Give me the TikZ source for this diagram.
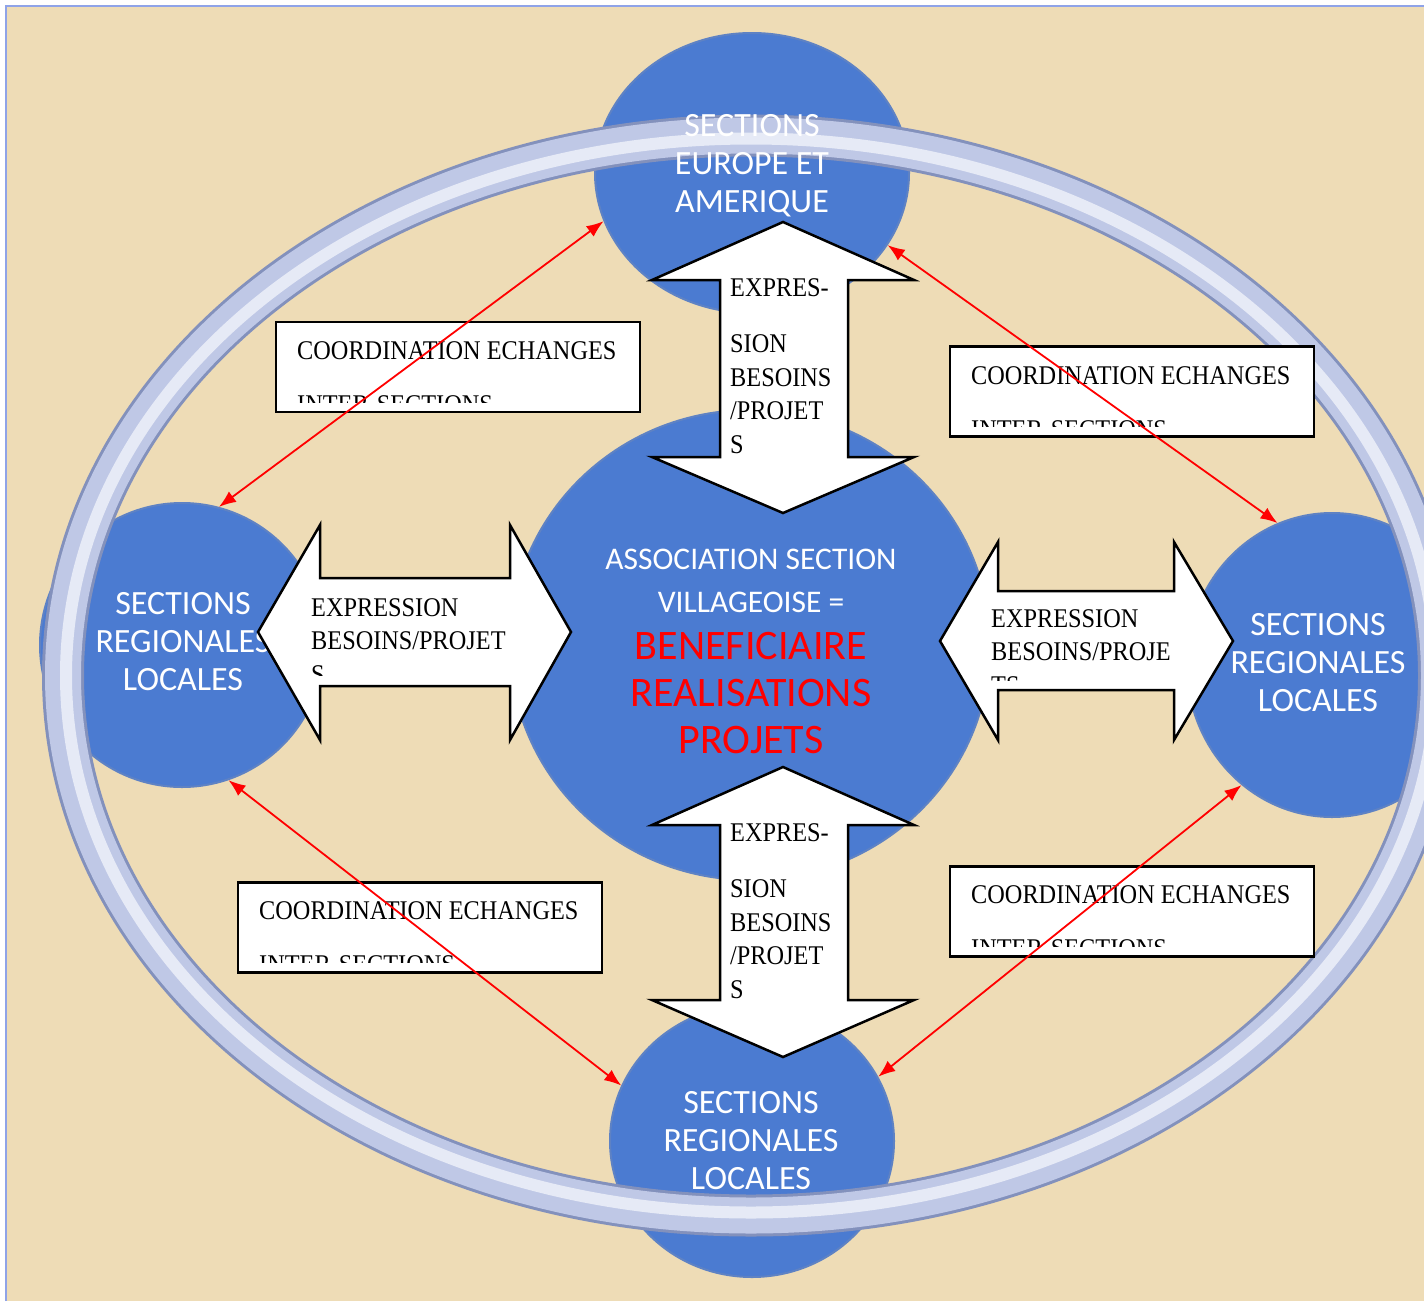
\documentclass[tikz,border=0pt]{standalone}
\usepackage{fontspec}
\usetikzlibrary{shapes.geometric,arrows.meta,positioning}
\newfontfamily\cirfont{Carlito}
\newfontfamily\boxfont{Liberation Serif}[FakeStretch=0.9]
\definecolor{paper}{HTML}{EEDCB6}
\definecolor{disc}{HTML}{4B7BD1}
\definecolor{discedge}{HTML}{5E82C4}
\definecolor{ringmid}{HTML}{BFC8E6}
\definecolor{ringdark}{HTML}{8391BC}
\definecolor{ringlight}{HTML}{E6EAF6}
\definecolor{frameblue}{HTML}{8FA3E8}
\tikzset{>={Latex[length=17pt,width=13pt]}}

\begin{document}
\begin{tikzpicture}[x=1pt, y=-1pt,
    disc/.style={ellipse, fill=disc, draw=discedge, line width=2pt, inner sep=0pt},
    discname/.style={font=\cirfont\fontsize{34}{38}\selectfont, text=white, align=center, inner sep=0pt, anchor=base},
    bigarrow/.style={draw=black, fill=white, line width=2.5pt, line join=miter},
    arrowtext/.style={font=\boxfont\fontsize{27}{33.5}\selectfont, align=left, inner sep=0pt, anchor=base west},
    coordbox/.style={rectangle, draw=black, fill=white, line width=2.5pt, minimum width=364pt, minimum height=90pt, inner sep=0pt},
    coordtext/.style={font=\boxfont\fontsize{27}{54}\selectfont, align=left, inner sep=0pt, anchor=base west},
    link/.style={<->, red, line width=1.8pt}]
  \useasboundingbox (0,0) rectangle (1424,1301);
  \fill[paper] (6,6) rectangle (1424,1301);
  \draw[frameblue, line width=2pt] (6,1301) -- (6,6) -- (1424,6);

  % outer sections
  \node[disc, minimum width=314pt, minimum height=280pt] (top) at (752,173) {};
  \node[disc, minimum width=284pt, minimum height=284pt] (left) at (182,645) {};
  \node[disc, minimum width=290pt, minimum height=304pt] (right) at (1332,665) {};
  \node[disc, minimum width=284pt, minimum height=272pt] (bottom) at (752,1141) {};

  % ring
  \draw[ringdark, line width=42pt] (751,675.5) ellipse [x radius=688, y radius=540];
  \draw[ringmid, line width=36pt] (751,675.5) ellipse [x radius=688, y radius=540];
  \draw[ringlight, line width=12pt] (751,675.5) ellipse [x radius=685, y radius=537];

  % centre
  \node[disc, minimum width=480pt, minimum height=470pt] (centre) at (750,645) {};

  % (base = last line)
  \node[discname] (toptxt) at (752,212) {SECTIONS\\EUROPE ET\\AMERIQUE};
  \node[discname] (lefttxt) at (183,690) {SECTIONS\\REGIONALES\\LOCALES};
  \node[discname] (righttxt) at (1318,711) {SECTIONS\\REGIONALES\\LOCALES};
  \node[discname] (bottomtxt) at (751,1189) {SECTIONS\\REGIONALES\\LOCALES};
  \node[discname, font=\cirfont\fontsize{31.5}{43}\selectfont] (centretxt) at (751,612) {ASSOCIATION SECTION\\VILLAGEOISE =};
  \node[discname, font=\cirfont\fontsize{42}{47}\selectfont, text=red] (benef) at (751,753) {BENEFICIAIRE\\REALISATIONS\\PROJETS};

  % expression arrows
  \draw[bigarrow] (783,222) -- (914,280) -- (848,280) -- (848,457) -- (914,457) -- (783,513)
    -- (652,457) -- (720,457) -- (720,280) -- (652,280) -- cycle;
  \node[arrowtext] (uptxt) at (730,453) {EXPRES-\\[22.5pt]SION\\BESOINS\\/PROJET\\S};

  \draw[bigarrow] (783,767) -- (914,825) -- (848,825) -- (848,1000) -- (914,1000) -- (783,1057)
    -- (652,1000) -- (720,1000) -- (720,825) -- (652,825) -- cycle;
  \node[arrowtext] (downtxt) at (730,998) {EXPRES-\\[22.5pt]SION\\BESOINS\\/PROJET\\S};

  \draw[bigarrow] (258,632) -- (320,525) -- (320,578) -- (510,578) -- (510,525) -- (571,632)
    -- (510,740) -- (510,686) -- (320,686) -- (320,740) -- cycle;
  \begin{scope}
    \clip (290,570) rectangle (540,675);
    \node[arrowtext] (westtxt) at (311,683) {EXPRESSION\\BESOINS/PROJET\\S};
  \end{scope}

  \draw[bigarrow] (940,641) -- (998,542) -- (998,591) -- (1174,591) -- (1174,542) -- (1233,641)
    -- (1174,740) -- (1174,690) -- (998,690) -- (998,740) -- cycle;
  \begin{scope}
    \clip (970,580) rectangle (1200,680);
    \node[arrowtext] (easttxt) at (991,694) {EXPRESSION\\BESOINS/PROJE\\TS};
  \end{scope}

  % coordination boxes
  \node[coordbox] (box1) at (458,367) {};
  \node[coordbox] (box2) at (1132,391.5) {};
  \node[coordbox] (box3) at (420,927.5) {};
  \node[coordbox] (box4) at (1132,911.5) {};
  \begin{scope}
    \clip (276,322) rectangle (640,402);
    \node[coordtext] (box1txt) at (297,413) {COORDINATION ECHANGES\\INTER-SECTIONS};
  \end{scope}
  \begin{scope}
    \clip (950,347) rectangle (1314,426);
    \node[coordtext] (box2txt) at (971,438) {COORDINATION ECHANGES\\INTER-SECTIONS};
  \end{scope}
  \begin{scope}
    \clip (238,883) rectangle (602,962);
    \node[coordtext] (box3txt) at (259,973) {COORDINATION ECHANGES\\INTER-SECTIONS};
  \end{scope}
  \begin{scope}
    \clip (950,867) rectangle (1314,946);
    \node[coordtext] (box4txt) at (971,957) {COORDINATION ECHANGES\\INTER-SECTIONS};
  \end{scope}

  % red links
  \draw[link] (top.198) -- (left.75);
  \draw[link] (top.332) -- (right.111);
  \draw[link] (left.289) -- (bottom.157);
  \draw[link] (right.233) -- (bottom.27);
\end{tikzpicture}
\end{document}
